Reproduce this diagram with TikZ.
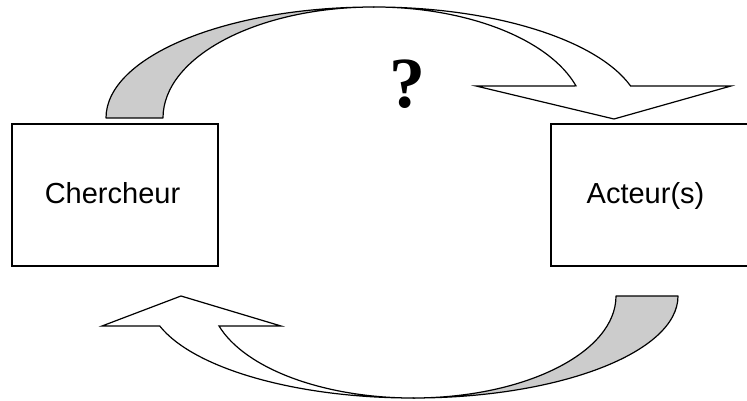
\documentclass[tikz,border=0pt]{standalone}
\usepackage{fontspec}
\setmainfont{Liberation Sans}
\newfontfamily\qfont{Liberation Serif}
\definecolor{bandgray}{gray}{0.8}
\begin{document}
\begin{tikzpicture}[x=1pt,y=1pt,line width=1.2pt,
    box/.style={draw=black,minimum width=206pt,minimum height=142pt,inner sep=0pt},
    lbl/.style={font=\fontsize{29}{34}\selectfont,inner sep=0pt,anchor=base},
    back/.style={draw=black,fill=bandgray,line join=round},
    front/.style={draw=black,fill=white,line join=miter}]
    \useasboundingbox (0,0) rectangle (747,-401);
    % boxes
    \node [box] (cherbox) at (115,-195) {};
    \node [lbl] (chertxt) at (112.5,-204) {Chercheur};
    \node [box] (actbox) at (654,-195) {};
    \node [lbl] (acttxt) at (645.5,-204) {Acteur(s)};
    % top arrow
    \draw [back] (106,-118) arc (180:90:268 and 111) arc (90:180:211 and 111) -- cycle;
    \draw [front] (374,-7) arc (90:16.8:268 and 111) -- (731,-86) -- (614,-119)
        -- (476,-86) -- (576,-85.9) arc (16.8:90:211 and 111) -- cycle;
    \node [anchor=base,inner sep=0pt,font=\qfont\bfseries\fontsize{72}{80}\selectfont] (quest) at (407,-107.5) {?};
    % bottom arrow
    \draw [back] (678,-296) arc (0:-90:265 and 102) arc (-90:0:203 and 102) -- cycle;
    \draw [front] (413,-398) arc (270:197.1:265 and 102) -- (102,-326) -- (181,-296)
        -- (281,-326) -- (219,-326) arc (197.1:270:203 and 102) -- cycle;
\end{tikzpicture}
\end{document}
